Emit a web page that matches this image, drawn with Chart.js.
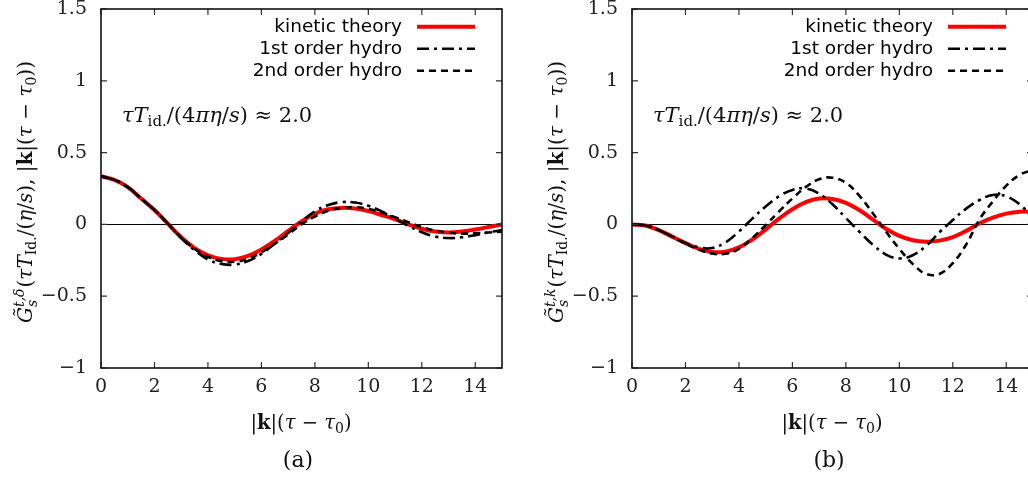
<!DOCTYPE html>
<html>
<head>
<meta charset="utf-8">
<script src="https://cdn.jsdelivr.net/npm/chart.js@4"></script>
<style>
  html, body { margin: 0; padding: 0; background: #fff; overflow: hidden; }
  body { width: 1028px; height: 482px; position: relative; }
  canvas { position: absolute; top: 0; }
  #chartA { left: 0; }
  #chartB { left: 531px; }
</style>
</head>
<body>
<canvas id="chartA" width="520" height="482"></canvas>
<canvas id="chartB" width="520" height="482"></canvas>
<script>
// |k|(tau - tau0) sample points
const kTau = [0, 0.5, 1, 1.5, 2, 2.5, 3, 3.5, 4, 4.5, 5, 5.5, 6, 6.5, 7, 7.5,
              8, 8.5, 9, 9.5, 10, 10.5, 11, 11.5, 12, 12.5, 13, 13.5, 14, 14.5, 15];
const xTicks = [0, 2, 4, 6, 8, 10, 12, 14];
const yTicks = [-1, -0.5, 0, 0.5, 1, 1.5];
const seriesLabels = ['kinetic theory', '1st order hydro', '2nd order hydro'];

// panel (a): G^{t,delta}
const kineticA = [0.335, 0.31, 0.26, 0.18, 0.10, 0.005, -0.09, -0.165, -0.215, -0.24, -0.243, -0.22, -0.175, -0.115, -0.045, 0.02,
                  0.075, 0.105, 0.115, 0.11, 0.093, 0.065, 0.035, 0.0, -0.03, -0.05, -0.056, -0.05, -0.035, -0.018, 0.0];
const firstA   = [0.335, 0.31, 0.26, 0.18, 0.10, 0.005, -0.095, -0.18, -0.245, -0.275, -0.28, -0.255, -0.205, -0.135, -0.06, 0.02,
                  0.09, 0.135, 0.155, 0.152, 0.13, 0.09, 0.04, -0.01, -0.055, -0.085, -0.095, -0.09, -0.075, -0.055, -0.04];
const secondA  = [0.335, 0.31, 0.26, 0.18, 0.10, 0.005, -0.09, -0.17, -0.225, -0.255, -0.26, -0.24, -0.195, -0.135, -0.07, 0.0,
                  0.055, 0.095, 0.115, 0.12, 0.108, 0.083, 0.05, 0.015, -0.018, -0.043, -0.058, -0.064, -0.062, -0.056, -0.05];

// panel (b): G^{t,k}
const kineticB = [0, -0.008, -0.04, -0.085, -0.13, -0.17, -0.192, -0.19, -0.16, -0.105, -0.035, 0.04, 0.105, 0.155, 0.18, 0.177,
                  0.15, 0.10, 0.035, -0.03, -0.08, -0.11, -0.12, -0.113, -0.088, -0.045, 0.008, 0.048, 0.075, 0.088, 0.088];
const firstB   = [0, -0.008, -0.04, -0.085, -0.13, -0.16, -0.165, -0.125, -0.05, 0.04, 0.125, 0.195, 0.24, 0.25, 0.215, 0.14,
                  0.045, -0.05, -0.14, -0.21, -0.237, -0.215, -0.15, -0.055, 0.03, 0.11, 0.17, 0.205, 0.195, 0.14, 0.045];
const secondB  = [0, -0.008, -0.04, -0.085, -0.135, -0.175, -0.203, -0.205, -0.17, -0.095, -0.005, 0.09, 0.18, 0.26, 0.315, 0.325,
                  0.29, 0.20, 0.08, -0.05, -0.17, -0.275, -0.345, -0.345, -0.27, -0.14, 0.035, 0.16, 0.27, 0.345, 0.38];

const SERIF = '"DejaVu Serif", "Liberation Serif", serif';
const SANS = '"DejaVu Sans", sans-serif';

function segFont(st, size) {
  return (st === 'i' ? 'italic ' : st === 'b' ? 'bold ' : '') + size + 'px ' + SERIF;
}

// draws a run of math-like pieces: s = r/i/b, v = sub/sup, ss = [sup, sub]
function richText(ctx, segs, x, y, size, align) {
  const small = Math.round(size * 0.7);
  const parts = segs.map(s => {
    if (s.ss) {
      ctx.font = segFont('i', small);
      return { ...s, w: Math.max(ctx.measureText(s.ss[0]).width, ctx.measureText(s.ss[1]).width) + 1 };
    }
    const sz = s.v ? small : size;
    ctx.font = segFont(s.s, sz);
    return { ...s, sz, w: ctx.measureText(s.t).width };
  });
  const total = parts.reduce((a, p) => a + p.w, 0);
  let cx = align === 'center' ? x - total / 2 : align === 'right' ? x - total : x;
  ctx.textAlign = 'left';
  ctx.textBaseline = 'alphabetic';
  parts.forEach(p => {
    if (p.ss) {
      ctx.font = segFont('i', small);
      ctx.fillText(p.ss[0], cx, y - size * 0.42);
      ctx.fillText(p.ss[1], cx, y + size * 0.25);
    } else {
      ctx.font = segFont(p.s, p.sz);
      const dy = p.v === 'sub' ? size * 0.2 : p.v === 'sup' ? -size * 0.42 : 0;
      ctx.fillText(p.t, cx, y + dy);
    }
    cx += p.w;
  });
}

const xTitle = [
  { t: '|', s: 'r' }, { t: 'k', s: 'b' }, { t: '|(', s: 'r' }, { t: 'τ', s: 'i' },
  { t: ' − ', s: 'r' }, { t: 'τ', s: 'i' }, { t: '0', s: 'r', v: 'sub' }, { t: ')', s: 'r' }
];
const note = [
  { t: 'τT', s: 'i' }, { t: 'id.', s: 'r', v: 'sub' }, { t: '/(4', s: 'r' }, { t: 'πη', s: 'i' },
  { t: '/', s: 'r' }, { t: 's', s: 'i' }, { t: ') ≈ 2.0', s: 'r' }
];
function yTitle(sup) {
  return [
    { t: 'G̃', s: 'i' }, { ss: [sup, 's'] }, { t: '(', s: 'r' }, { t: 'τT', s: 'i' },
    { t: 'Id.', s: 'r', v: 'sub' }, { t: '/(', s: 'r' }, { t: 'η', s: 'i' }, { t: '/', s: 'r' },
    { t: 's', s: 'i' }, { t: '), |', s: 'r' }, { t: 'k', s: 'b' }, { t: '|(', s: 'r' }, { t: 'τ', s: 'i' },
    { t: ' − ', s: 'r' }, { t: 'τ', s: 'i' }, { t: '0', s: 'r', v: 'sub' }, { t: '))', s: 'r' }
  ];
}

const framePlugin = {
  id: 'frame',
  beforeDatasetsDraw(chart) {
    const { ctx, chartArea: a, scales: { y } } = chart;
    const y0 = Math.round(y.getPixelForValue(0)) + 0.5;
    ctx.save();
    ctx.strokeStyle = '#000';
    ctx.lineWidth = 1;
    ctx.beginPath(); ctx.moveTo(a.left, y0); ctx.lineTo(a.right, y0); ctx.stroke();
    ctx.restore();
  },
  afterDraw(chart, args, opts) {
    const { ctx, chartArea: a, scales: { x, y } } = chart;
    ctx.save();
    // inward ticks, mirrored like gnuplot
    ctx.strokeStyle = '#333';
    ctx.lineWidth = 1.2;
    ctx.beginPath();
    xTicks.forEach(v => {
      const px = x.getPixelForValue(v);
      ctx.moveTo(px, a.bottom); ctx.lineTo(px, a.bottom - 6);
      ctx.moveTo(px, a.top); ctx.lineTo(px, a.top + 6);
    });
    yTicks.forEach(v => {
      const py = y.getPixelForValue(v);
      ctx.moveTo(a.left, py); ctx.lineTo(a.left + 6, py);
      ctx.moveTo(a.right, py); ctx.lineTo(a.right - 6, py);
    });
    ctx.stroke();
    ctx.strokeStyle = '#111';
    ctx.lineWidth = 1.6;
    ctx.strokeRect(a.left, a.top, a.right - a.left, a.bottom - a.top);

    // key, text on the left of the sample
    chart.data.datasets.forEach((ds, i) => {
      const ly = 26.7 + 22 * i;
      ctx.fillStyle = '#000';
      ctx.font = '18.5px ' + SANS;
      ctx.textAlign = 'right';
      ctx.textBaseline = 'alphabetic';
      ctx.fillText(ds.label, 402, ly + 5.5);
      ctx.strokeStyle = ds.borderColor;
      ctx.lineWidth = ds.borderWidth;
      ctx.setLineDash(ds.borderDash);
      ctx.beginPath(); ctx.moveTo(417, ly); ctx.lineTo(475, ly); ctx.stroke();
      ctx.setLineDash([]);
    });

    ctx.fillStyle = '#111';
    richText(ctx, note, 122, 122, 21, 'left');
    richText(ctx, xTitle, 301, 429, 19.5, 'center');
    ctx.font = '22px ' + SERIF;
    ctx.textAlign = 'center';
    ctx.fillText(opts.letter, 298, 467);

    ctx.translate(32, 192);
    ctx.rotate(-Math.PI / 2);
    richText(ctx, opts.yLabel, 0, 0, 20, 'center');
    ctx.restore();
  }
};

const styles = [
  { borderColor: '#ff0000', borderWidth: 4, borderDash: [], order: 3 },
  { borderColor: '#000000', borderWidth: 2.6, borderDash: [12, 5, 3, 5], order: 2 },
  { borderColor: '#000000', borderWidth: 2.6, borderDash: [7, 5], order: 1 }
];

function makeChart(id, series, yLabel, letter) {
  const tickFont = { family: SERIF, size: 19 };
  return new Chart(document.getElementById(id), {
    type: 'line',
    data: {
      datasets: series.map((ys, i) => ({
        label: seriesLabels[i],
        data: kTau.map((k, j) => ({ x: k, y: ys[j] })),
        pointRadius: 0, tension: 0.4, fill: false,
        ...styles[i]
      }))
    },
    options: {
      responsive: false, animation: false, devicePixelRatio: 1,
      layout: { padding: { left: 0, right: 18, top: 9, bottom: 0 } },
      plugins: { legend: { display: false }, tooltip: { enabled: false }, frame: { yLabel, letter } },
      scales: {
        x: {
          type: 'linear', min: 0, max: 15,
          grid: { display: false }, border: { display: false },
          afterBuildTicks: s => { s.ticks = xTicks.map(v => ({ value: v })); },
          afterFit: s => { s.height = 114; s.paddingLeft = 0; s.paddingRight = 0; },
          ticks: { font: tickFont, color: '#222', padding: 0, maxRotation: 0, autoSkip: false }
        },
        y: {
          min: -1, max: 1.5,
          grid: { display: false }, border: { display: false },
          afterBuildTicks: s => { s.ticks = yTicks.map(v => ({ value: v })); },
          afterFit: s => { s.width = 101; s.paddingTop = 0; s.paddingBottom = 0; },
          ticks: { font: tickFont, color: '#222', padding: 6, callback: v => String(v).replace('-', '−') }
        }
      }
    },
    plugins: [framePlugin]
  });
}

makeChart('chartA', [kineticA, firstA, secondA], yTitle('t,δ'), '(a)');
makeChart('chartB', [kineticB, firstB, secondB], yTitle('t,k'), '(b)');
</script>
</body>
</html>
